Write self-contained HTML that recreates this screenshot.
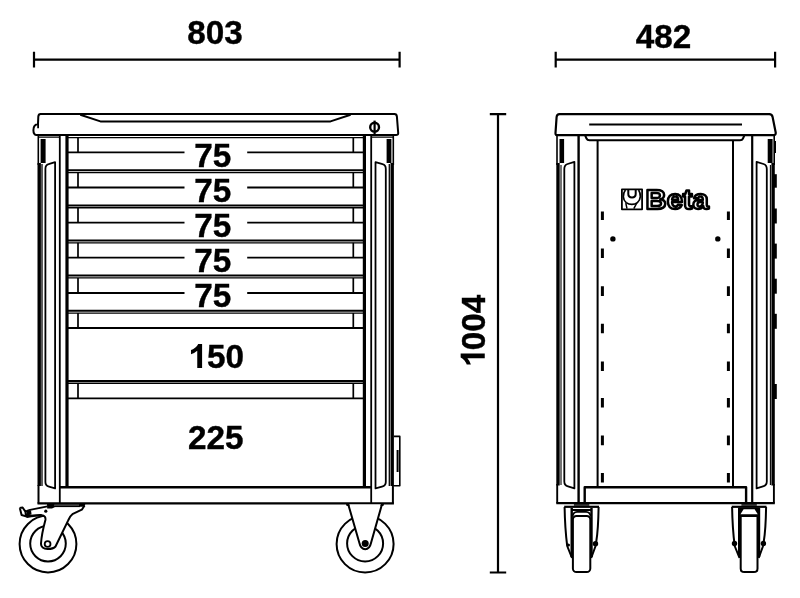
<!DOCTYPE html>
<html>
<head>
<meta charset="utf-8">
<title>Tool cabinet dimensions</title>
<style>
html,body{margin:0;padding:0;background:#fff;}
body{width:800px;height:598px;overflow:hidden;font-family:"Liberation Sans",sans-serif;}
svg{display:block;filter:grayscale(1) blur(0.3px);}
text{font-family:"Liberation Sans",sans-serif;font-weight:bold;fill:#000;}
.k{stroke:#000;fill:none;stroke-linecap:butt;stroke-linejoin:round;}
.w{fill:#fff;}
</style>
</head>
<body>
<svg width="800" height="598" viewBox="0 0 800 598">
<rect width="800" height="598" fill="#fff"/>

<!-- ================= DIMENSIONS ================= -->
<g class="k" stroke-width="2.2">
  <path d="M34 59.6H399.6M34 51.8V67.5M399.6 51.8V67.5"/>
  <path d="M555.7 59.6H775.1M555.7 51.8V67.5M775.1 51.8V67.5"/>
  <path d="M498 114.2V572.5M489.8 114.2H506.2M489.8 572.5H506.2"/>
</g>
<g id="dimtext" font-size="34" style="stroke:#000;stroke-width:0.4">
<text x="187.15" y="43.6" textLength="55.5" lengthAdjust="spacingAndGlyphs">803</text>
<text x="635.8" y="48" textLength="55.5" lengthAdjust="spacingAndGlyphs">482</text>
<g transform="translate(484.75,350.2) rotate(-90)"><text x="0" y="0" textLength="55.5" lengthAdjust="spacingAndGlyphs">004</text></g>
<path transform="translate(484.75,353.5) rotate(-90)" d="M0 0H-4.85V-17.34Q-7.5 -14.98 -11.1 -13.85V-18.02Q-9.2 -18.6 -7 -20.26Q-4.76 -21.9 -3.94 -24.1H0Z" fill="#000" stroke="none"/>
</g>

<!-- ================= FRONT VIEW ================= -->
<g id="front">
  <!-- top slab -->
  <path class="k w" stroke-width="2" d="M40.6 114.1H394.4Q396.7 114.1 396.9 116.6L398.2 133Q398.3 135.1 396 135.1H36.2Q33.5 134.6 33.4 130.2Q33.4 124.6 38 124L38.3 116.6Q38.5 114.1 40.6 114.1Z"/>
  <path class="k" stroke-width="1.8" d="M38.1 123.5V128.3"/>
  <path class="k" stroke-width="1.2" d="M38 137.1H60M371 137.1H394"/>
  <path class="k" stroke-width="2" d="M80.3 114.8L100.4 121.4H330.5L350.6 114.8"/>
  <!-- lock -->
  <circle class="k" stroke-width="2.4" cx="374.6" cy="127.2" r="4.4"/>
  <path class="k" stroke-width="2.2" d="M374.6 120.6V134"/>

  <!-- left column -->
  <path class="k" stroke-width="3.4" d="M39.2 163V486"/>
  <path class="k" stroke-width="2" d="M38.5 485V503.5"/>
  <path class="k" stroke-width="1.6" d="M38.3 136V165"/>
  <rect x="40.6" y="139" width="5" height="24" fill="#000"/>
  <path class="k" stroke-width="1.3" d="M42 164V486"/>
  <path class="k" stroke-width="1.8" d="M45.4 482V169Q45.4 165 48.6 164.2L55.1 162.2V488.4L49 486.6Q45.4 485.6 45.4 482Z"/>
  <path class="k" stroke-width="1.8" d="M59.8 136V503.5"/>
  <path class="k" stroke-width="3.2" d="M67 136V487"/>

  <!-- right column -->
  <path class="k" stroke-width="3.2" d="M364.4 136V487"/>
  <path class="k" stroke-width="1.8" d="M371.2 136V503.5"/>
  <path class="k" stroke-width="1.8" d="M385.8 482V169Q385.8 165 382.6 164.2L375.5 162.2V488.4L382 486.6Q385.8 485.6 385.8 482Z"/>
  <path class="k" stroke-width="1.3" d="M389.3 164V486"/>
  <rect x="386.6" y="139" width="4.8" height="24" fill="#000"/>
  <path class="k" stroke-width="1.6" d="M393.3 136V165"/>
  <path class="k" stroke-width="3.4" d="M392.2 163V486"/>
  <path class="k" stroke-width="2" d="M392.9 485V503.5"/>

  <!-- drawers -->
  <path class="k" stroke-width="2" d="M66.2 170.30H365.2M66.2 205.40H365.2M66.2 240.50H365.2M66.2 275.60H365.2M66.2 310.70H365.2M66.2 380.90H365.2"/>
  <path class="k" stroke-width="1.3" d="M67 137.6H364.4M67 172.65H364.4M67 207.75H364.4M67 242.85H364.4M67 277.95H364.4M67 313.05H364.4M67 383.25H364.4"/>
  <path class="k" stroke-width="1.8" d="M67 152.4H184.5M247.2 152.4H364.4M67 187.5H184.5M247.2 187.5H364.4M67 222.7H184.5M247.2 222.7H364.4M67 257.7H184.5M247.2 257.7H364.4M67 293.0H184.5M247.2 293.0H364.4M67 328.0H364.4M67 398.3H364.4"/>
  <path class="k" stroke-width="1.7" d="M78 137.50V152.4M353.3 137.50V152.4M78 172.65V187.5M353.3 172.65V187.5M78 207.75V222.7M353.3 207.75V222.7M78 242.85V257.7M353.3 242.85V257.7M78 277.95V293.0M353.3 277.95V293.0M78 313.05V328.0M353.3 313.05V328.0M78 383.25V398.3M353.3 383.25V398.3"/>
  <path class="k" stroke-width="2.6" d="M59 487.3H372"/>
  <!-- base -->
  <path class="k" stroke-width="2.2" d="M37.5 503.3H393.9"/>
  <!-- side box -->
  <path class="k" stroke-width="1.6" d="M394 436.4H399.8V485.8H394"/>
  <path class="k" stroke-width="2" d="M397.6 450V472"/>
</g>

<!-- drawer labels -->
<g font-size="34" style="stroke:#000;stroke-width:0.4">
  <text x="194.17" y="167.3" textLength="37" lengthAdjust="spacingAndGlyphs">75</text>
  <text x="194.17" y="202.1" textLength="37" lengthAdjust="spacingAndGlyphs">75</text>
  <text x="194.17" y="236.9" textLength="37" lengthAdjust="spacingAndGlyphs">75</text>
  <text x="194.17" y="271.7" textLength="37" lengthAdjust="spacingAndGlyphs">75</text>
  <text x="194.17" y="306.5" textLength="37" lengthAdjust="spacingAndGlyphs">75</text>
  <text x="207.1" y="367.9" textLength="37" lengthAdjust="spacingAndGlyphs">50</text>
  <path transform="translate(202.1,368.1)" d="M0 0H-4.85V-17.34Q-7.5 -14.98 -11.1 -13.85V-18.02Q-9.2 -18.6 -7 -20.26Q-4.76 -21.9 -3.94 -24.1H0Z" fill="#000" stroke="none"/>
  <text x="187.95" y="449.4" textLength="55.5" lengthAdjust="spacingAndGlyphs">225</text>
</g>

<!-- left caster (swivel with brake) -->
<g id="casterL">
  <circle class="k" stroke-width="2" cx="48" cy="544" r="28.4"/>
  <circle class="k" stroke-width="2" cx="48" cy="543.6" r="17.8"/>
  <path fill="#fff" stroke="none" d="M46 507H84.4V506L81.8 509.7L72.4 514.2Q69.5 516.5 68.6 520.6L55.5 546.5C54 548.3 51.5 549 47.5 549C43.5 549 40.8 547 41 543.5C41.5 536 43.5 527 45.4 520C45.8 517 44.5 515.5 41.6 515.3Z"/>
  <path class="k" stroke-width="2" d="M84.6 505.5L81.8 509.7L72.4 514.2Q69.6 516.3 68.2 520.4L55.5 546.5C54 548.3 51.5 549 47.5 549C43.5 549 40.8 547 41 543.5C41.5 536 43.5 527 45.4 520C45.8 517 44.5 515.5 41.6 515.3"/>
  <path class="k" stroke-width="2.6" d="M41.8 515.3C37 514.8 32 516 26.5 516.6"/>
  <circle class="k w" stroke-width="1.8" cx="47.6" cy="544" r="2.9"/>
  <!-- plate -->
  <path class="k" stroke-width="1.4" stroke="#bbb" d="M54.5 505.05H79.2"/>
  <path class="k" stroke-width="1.1" d="M54 506.55H80"/>
  <path fill="#000" d="M47 503.8H54.6V507.2L52 508.4H47.2ZM79 503.8H85.4L84.4 506.8H79Z"/>
  <!-- brake lever -->
  <path class="k" stroke-width="1.8" d="M47.5 506.4L28.8 510.2"/>
  <path class="k" stroke-width="2" d="M19.6 508L22.6 507.5L25.4 511.6L29 510.2M19.8 508L21.6 515L26.8 516.6L29 510.4M25.4 511.6L26 516"/>
  <circle cx="45.8" cy="511.2" r="1.6" fill="#000"/>
  <path fill="#000" d="M26.4 511.2L31 510.2L31.6 514.6L27 515.6Z"/>
</g>

<!-- right caster (fixed) -->
<g id="casterR">
  <circle class="k" stroke-width="2" cx="365.1" cy="544" r="28.5"/>
  <circle class="k" stroke-width="2" cx="365.1" cy="543.4" r="18"/>
  <path fill="#fff" stroke="none" d="M348.2 504.4L359.4 543C360.4 547.6 363 549.2 365.2 549.2C367.6 549.2 370 547.6 371 543L382 504.4Z"/>
  <path class="k" stroke-width="2" d="M348.2 504.2L359.4 543C360.4 547.6 363 549.2 365.2 549.2C367.6 549.2 370 547.6 371 543L382 504.2"/>
  <path fill="#000" d="M345.8 503.6H349L349.6 506H346.6ZM381 503.6H384.2L383.4 506H380.4Z"/>
  <circle cx="365.2" cy="543.6" r="3.5" fill="#000"/>
</g>

<!-- ================= SIDE VIEW ================= -->
<g id="side">
  <!-- top slab -->
  <path class="k w" stroke-width="2.2" d="M559.5 114.2H769.3Q772 114.2 772.6 117L775.7 132.5Q776 135.2 773.5 135.2H557.5Q555.3 135.2 555.5 133L556.6 117Q556.9 114.2 559.5 114.2Z"/>
  <path class="k" stroke-width="2" d="M589.2 124.6H742"/>
  <!-- lip under slab -->
  <path class="k" stroke-width="2" d="M585.2 135.5L586.5 138.5Q587.3 140.3 589.5 140.3H740Q742.2 140.3 743 138.5L744.3 135.5"/>
  <!-- left column -->
  <path class="k" stroke-width="1.6" d="M557 136V165"/>
  <rect x="559.5" y="139" width="4.6" height="24" fill="#000"/>
  <path class="k" stroke-width="3.4" d="M558 163V485.5"/>
  <path class="k" stroke-width="1.9" d="M557.2 484V503.3"/>
  <path class="k" stroke-width="1.1" d="M561 165V485"/>
  <path class="k" stroke-width="1.8" d="M564.3 481.5V169Q564.3 165 567.6 164L574.4 161.8V488.4L568 486.4Q564.3 485.3 564.3 481.5Z"/>
  <path class="k" stroke-width="2.4" d="M578.6 136V503.3"/>
  <!-- right column -->
  <path class="k" stroke-width="2.2" d="M752.2 136V503.3"/>
  <path class="k" stroke-width="1.8" d="M766.8 481.5V169Q766.8 165 763.5 164L756.6 161.8V488.4L763 486.4Q766.8 485.3 766.8 481.5Z"/>
  <path class="k" stroke-width="1.1" d="M770.4 165V485"/>
  <rect x="767.7" y="139" width="4.9" height="24" fill="#000"/>
  <path class="k" stroke-width="1.6" d="M774.2 136V165"/>
  <path class="k" stroke-width="3.4" d="M773.1 163V485.5"/>
  <path class="k" stroke-width="1.9" d="M773.9 484V503.3"/>
  <g fill="#000">
    <rect x="774.4" y="141" width="1.6" height="12"/>
    <rect x="774" y="174.2" width="2.8" height="13.5"/>
    <rect x="774" y="208.5" width="2.8" height="15"/>
    <rect x="774" y="243.6" width="2.8" height="15"/>
    <rect x="774" y="278.7" width="2.8" height="15"/>
    <rect x="774" y="313.8" width="2.8" height="15"/>
    <rect x="774" y="384" width="2.8" height="15"/>
  </g>
  <!-- Beta logo -->
  <g id="logo">
    <rect class="k" stroke-width="1.8" x="621.9" y="189.4" width="20.2" height="19.9"/>
    <path class="k" stroke-width="1.7" d="M625.4 190C622.4 194 622.6 199.6 626.2 202.6C629.4 205 634.4 205 637.4 202.6C641 199.6 641.2 194 638.6 190"/>
    <path class="k" stroke-width="2" d="M628.3 190V194C628.3 198.6 635.7 198.6 635.7 194V190"/>
    <path class="k" stroke-width="1.5" d="M625.8 203.2L627 208.6M636.8 203L633.8 208.6"/>
    <text x="677.2" y="208.7" font-size="28.5" text-anchor="middle" textLength="63.3" lengthAdjust="spacingAndGlyphs" style="fill:#fff;stroke:#000;stroke-width:2.5;stroke-linejoin:round">Beta</text>
  </g>
  <!-- inner panel -->
  <path class="k" stroke-width="2" d="M597.6 141V487M733 141V487"/>
  <!-- dashes -->
  <g class="k" stroke-width="3">
    <path d="M602.4 211.6V220M602.4 248.5V258M602.4 286.3V296M602.4 323.8V333.3M602.4 361.4V371M602.4 398V407.5M602.4 435.5V445.2M602.4 473V482.6"/>
    <path d="M728.4 211.6V220M728.4 248.5V258M728.4 286.3V296M728.4 323.8V333.3M728.4 361.4V371M728.4 398V407.5M728.4 435.5V445.2M728.4 473V482.6"/>
  </g>
  <circle cx="612.9" cy="238.9" r="2.7" fill="#000"/>
  <circle cx="717.8" cy="238.9" r="2.7" fill="#000"/>
  <!-- base rail -->
  <path class="k" stroke-width="2.4" d="M584.7 503.3V487.3H746.1V503.3"/>
  <path class="k" stroke-width="2.2" d="M556.3 503.2H774.8"/>
  <!-- casters -->
  <g>
    <path class="k" stroke-width="1.5" stroke="#999" d="M573.9 504.95H589.3"/>
    <rect x="564.2" y="505.7" width="34.8" height="2.2" fill="#000"/>
    <path class="k" stroke-width="2" d="M564.6 507C564.8 520 565.8 535 567.2 546L572.0 558M598.6 507C598.4 520 597.4 535 596.2 542L595.2 547L591.2 558"/>
    <path class="k" stroke-width="2.4" d="M571.7 508V557M591.5 508V557"/>
    <path class="k" stroke-width="1.8" d="M571.2 510H592.0M572.6 516.5Q573.0 512 577.0 511.8H586.2Q590.2 512 590.6 516.5"/>
    <rect class="k w" stroke-width="2" x="572.9" y="515.9" width="17.4" height="56.1" rx="3.6"/>
    <circle cx="595.5" cy="543.7" r="2.7" fill="#000"/>
    <circle cx="568.4" cy="545" r="1.6" fill="#000"/>
  </g>
  <g>
    <path class="k" stroke-width="1.5" stroke="#999" d="M741.4 504.95H756.8"/>
    <rect x="731.7" y="505.7" width="34.8" height="2.2" fill="#000"/>
    <path class="k" stroke-width="2" d="M732.1 507C732.3 520 733.3 535 734.7 546L739.5 558M766.1 507C765.9 520 764.9 535 763.7 542L762.7 547L758.7 558"/>
    <path class="k" stroke-width="2.4" d="M739.2 508V557M759.0 508V557"/>
    <path fill="#000" d="M738.7 507.5H759.5V516H738.7Z"/>
    <path fill="#fff" d="M743.6 509.2H754.6L757.7 514.2H740.5Z"/>
    <path class="k w" stroke-width="2" d="M740.7 516H757.5V568.4Q757.5 572 753.9 572H744.3Q740.7 572 740.7 568.4Z"/>
    <circle cx="734.5" cy="543.5" r="2.7" fill="#000"/>
    <circle cx="763.4" cy="543.5" r="2.7" fill="#000"/>
  </g>

</g>
</svg>
</body>
</html>
